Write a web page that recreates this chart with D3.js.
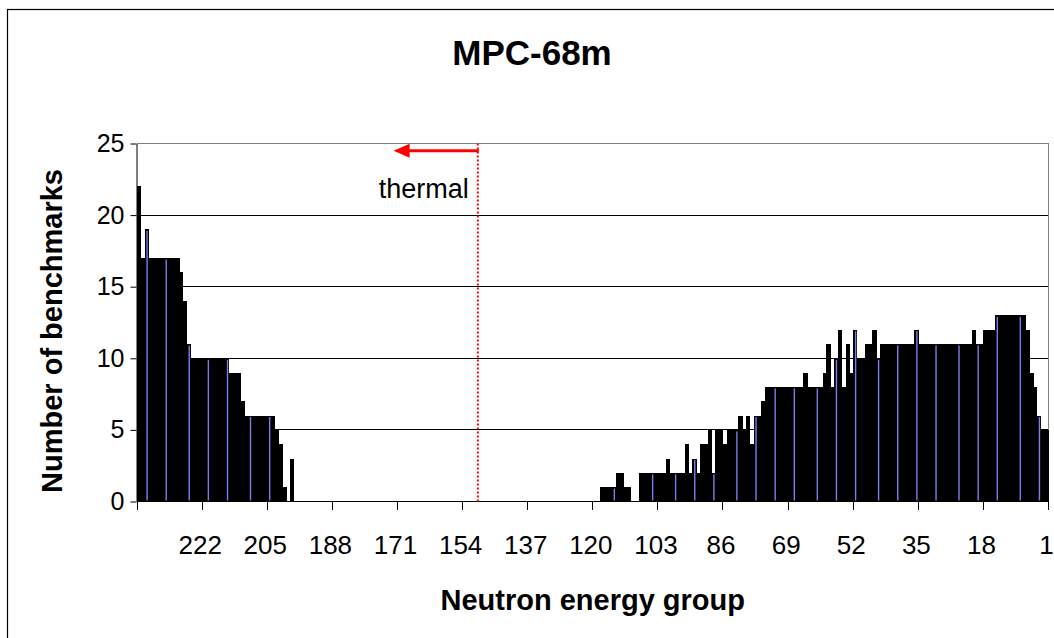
<!DOCTYPE html>
<html>
<head>
<meta charset="utf-8">
<script src="https://cdn.jsdelivr.net/npm/d3@7"></script>
<style>
  html, body { margin: 0; padding: 0; background: #fff; }
  svg { display: block; }
  text { font-family: "Liberation Sans", Arial, sans-serif; fill: #000; }
</style>
</head>
<body>
<svg id="chart" width="1054" height="638"></svg>
<script>
// ---------------- DATA ----------------
const chartTitle = "MPC-68m";
const xTitle = "Neutron energy group";
const yTitle = "Number of benchmarks";

// Neutron energy groups, plotted from 238 (left) to 1 (right)
const groups = d3.range(238, 0, -1).map(String);

// Number of benchmarks per group (same order as groups)
const counts = [
  22,17,19,17,17,17,17,17,17,17,17,16,14,11,10,10,10,10,10,10,
  10,10,10,10,9,9,9,7,6,6,6,6,6,6,6,6,5,4,1,0,
  3,
  0,0,0,0,0,0,0,0,0,0,0,0,0,0,0,0,0,0,0,0,
  0,0,0,0,0,0,0,0,0,0,0,0,0,0,0,0,0,0,0,0,
  0,0,0,0,0,0,0,0,0,0,0,0,0,0,0,0,0,0,0,0,
  0,0,0,0,0,0,0,0,0,0,0,0,0,0,0,0,0,0,0,0,
  1,1,1,1,2,2,1,1,0,0,
  2,2,2,2,2,2,2,3,2,2,
  2,2,4,2,3,2,4,4,5,2,
  5,5,4,5,5,5,6,5,6,4,
  6,6,7,8,8,8,8,8,8,8,
  8,8,8,9,8,8,8,8,9,11,
  8,10,12,8,11,9,12,10,10,11,
  11,12,10,11,11,11,11,11,11,11,
  11,11,12,11,11,11,11,11,11,11,
  11,11,11,11,11,11,11,12,11,11,
  12,12,12,13,13,13,13,13,13,13,
  13,12,9,8,6,5,5
];

const xTickLabels = ["222","205","188","171","154","137","120","103","86","69","52","35","18","1"];
const yTickValues = [0, 5, 10, 15, 20, 25];

// annotation: thermal boundary between group 150 and 149, arrow pointing to group 171
const thermalBoundaryGroup = "149";
const arrowTipGroup = "171";
const arrowLevel = 24.5;
const thermalLabel = "thermal";
const thermalLabelLevel = 21.2;

// styling: the periwinkle bar fill only shows through the heavy black
// outline on a regular subset of the narrow bars (period in bars, phase)
const fillShowPeriod = 5.29, fillShowPhase = 2.1;

// ---------------- CHART ----------------
const svg = d3.select("#chart");
const plotL = 137, plotR = 1048.5, plotT = 143.5, plotB = 501.5;

const x = d3.scaleBand().domain(groups).range([plotL, plotR]).padding(0);
const y = d3.scaleLinear().domain([0, 25]).range([plotB, plotT]);
const bw = x.bandwidth();

// chart area border (extends past the visible frame on right/bottom)
svg.append("rect")
  .attr("x", 7.5).attr("y", 9.5)
  .attr("width", 1200).attr("height", 800)
  .attr("fill", "none").attr("stroke", "#000").attr("stroke-width", 1.2);

// gridlines
svg.append("g").selectAll("line")
  .data(yTickValues.filter(v => v > 0 && v < 25))
  .join("line")
  .attr("x1", plotL).attr("x2", plotR)
  .attr("y1", d => y(d)).attr("y2", d => y(d))
  .attr("stroke", "#000").attr("stroke-width", 1)
  .attr("shape-rendering", "crispEdges");

// plot area border top & right (gray)
svg.append("path")
  .attr("d", `M${plotL},${y(25)}H${plotR}V${plotB}`)
  .attr("fill", "none").attr("stroke", "#808080").attr("stroke-width", 1)
  .attr("shape-rendering", "crispEdges");

// bars
const data = groups.map((g, i) => ({ g, i, v: counts[i] })).filter(d => d.v > 0);
svg.append("g").attr("shape-rendering", "crispEdges")
  .selectAll("rect")
  .data(data)
  .join("rect")
  .attr("x", d => x(d.g))
  .attr("width", bw + 0.4)
  .attr("y", d => y(d.v))
  .attr("height", d => y(0) - y(d.v))
  .attr("fill", "#000");

// fill visible inside the outline of some bars
const showsFill = i => {
  const k = Math.round((i - fillShowPhase) / fillShowPeriod);
  return Math.round(fillShowPhase + k * fillShowPeriod) === i;
};
svg.append("g")
  .selectAll("rect")
  .data(data.filter(d => showsFill(d.i)))
  .join("rect")
  .attr("x", d => x(d.g) + bw - 2.1)
  .attr("width", 1.4)
  .attr("y", d => y(d.v) + 1.5)
  .attr("height", d => Math.max(0, y(0) - y(d.v) - 2.5))
  .attr("fill", "#7c7cee");

// y axis
const yAxis = svg.append("g")
  .attr("transform", `translate(${plotL - 0.5},0)`)
  .call(d3.axisLeft(y).tickValues(yTickValues).tickSize(6).tickSizeOuter(0).tickPadding(6));
yAxis.select(".domain").attr("stroke", "#000");
yAxis.selectAll(".tick line").attr("stroke", "#000");
yAxis.selectAll("text")
  .style("font-size", "25px")
  .style("font-family", '"Liberation Sans", Arial, sans-serif')
  .attr("fill", "#000");

// x axis baseline
svg.append("line")
  .attr("x1", plotL).attr("x2", plotR)
  .attr("y1", y(0)).attr("y2", y(0))
  .attr("stroke", "#000").attr("stroke-width", 1)
  .attr("shape-rendering", "crispEdges");

// x tick marks at every 17th category boundary
const tickPos = d3.range(0, 15).map(k => k < 14 ? x(groups[k * 17]) : plotR);
svg.append("g").selectAll("line")
  .data(tickPos)
  .join("line")
  .attr("x1", d => d).attr("x2", d => d)
  .attr("y1", y(0)).attr("y2", y(0) + 8)
  .attr("stroke", "#000").attr("stroke-width", 1)
  .attr("shape-rendering", "crispEdges");

// x tick labels
svg.append("g").selectAll("text")
  .data(xTickLabels)
  .join("text")
  .attr("x", d => x(d) + bw / 2)
  .attr("y", 554)
  .attr("text-anchor", "middle")
  .style("font-size", "26px")
  .text(d => d);

// title
svg.append("text")
  .attr("x", 532).attr("y", 65)
  .attr("text-anchor", "middle")
  .style("font-size", "35px").style("font-weight", "bold")
  .text(chartTitle);

// axis titles
svg.append("text")
  .attr("x", (plotL + plotR) / 2).attr("y", 610)
  .attr("text-anchor", "middle")
  .style("font-size", "29px").style("font-weight", "bold")
  .text(xTitle);

svg.append("text")
  .attr("transform", `translate(62,331) rotate(-90)`)
  .attr("text-anchor", "middle")
  .style("font-size", "29px").style("font-weight", "bold")
  .text(yTitle);

// thermal annotation
const tx = x(thermalBoundaryGroup);
svg.append("line")
  .attr("x1", tx).attr("x2", tx)
  .attr("y1", y(25)).attr("y2", y(0))
  .attr("stroke", "#ff0000").attr("stroke-width", 2)
  .attr("stroke-dasharray", "2,2");

const tipX = x(arrowTipGroup);
const ay = y(arrowLevel);
svg.append("line")
  .attr("x1", tx + 1).attr("x2", tipX + 12)
  .attr("y1", ay).attr("y2", ay)
  .attr("stroke", "#ff0000").attr("stroke-width", 3);
svg.append("path")
  .attr("d", `M${tipX},${ay}L${tipX + 16},${ay - 7}L${tipX + 16},${ay + 7}Z`)
  .attr("fill", "#ff0000");

svg.append("text")
  .attr("x", tx - 9).attr("y", y(thermalLabelLevel))
  .attr("text-anchor", "end")
  .style("font-size", "27px")
  .text(thermalLabel);
</script>
</body>
</html>
